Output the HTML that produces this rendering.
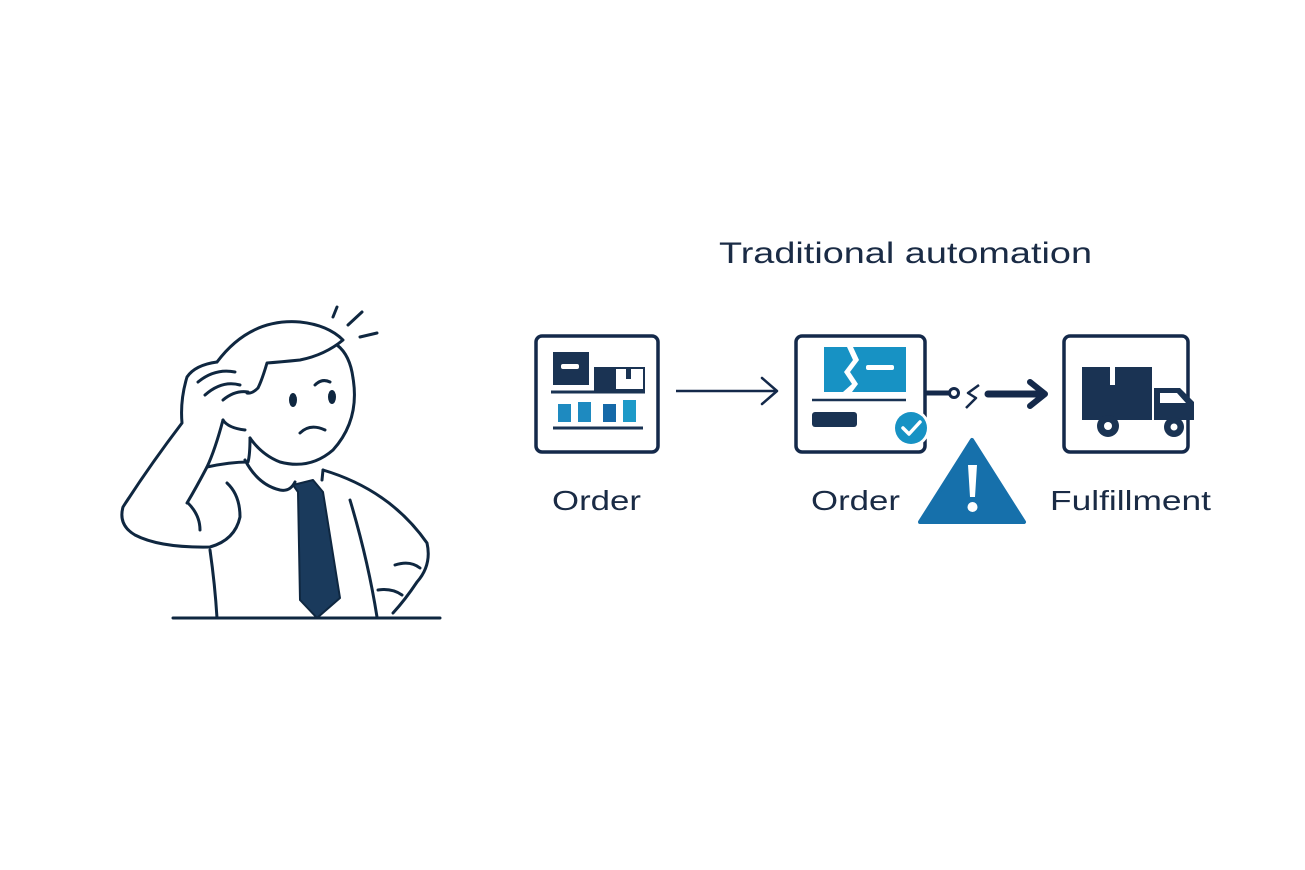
<!DOCTYPE html>
<html><head><meta charset="utf-8"><style>
html,body{margin:0;padding:0;background:#fff;}
svg{display:block;}
text{font-family:"Liberation Sans","DejaVu Sans",sans-serif;fill:#1a2b45;}
</style></head><body>
<svg width="1305" height="870" viewBox="0 0 1305 870" xmlns="http://www.w3.org/2000/svg">
<rect width="1305" height="870" fill="#fff"/>
<!-- Person -->
<g fill="none" stroke="#0f2740" stroke-width="3" stroke-linecap="round" stroke-linejoin="round">
  <!-- table -->
  <line x1="173" y1="618" x2="440" y2="618"/>
  <!-- body -->
  <path d="M323 470 Q390 490 427 543 Q432 565 417 582 Q405 600 393 613"/>
  <path d="M350 500 Q368 560 377 617"/>
  <path d="M395 565 Q410 560 420 568"/>
  <path d="M378 590 Q392 588 402 595"/>
  <path d="M210 550 Q215 585 217 618"/>
  <!-- collar -->
  <path d="M245 460 Q258 485 280 490 Q290 492 295 482"/>
  <path d="M322 480 L323 470"/>
  <!-- head -->
  <path d="M353 378 Q360 420 333 450 Q310 470 280 462 Q262 455 250 438"/>
  <path d="M217 362 Q250 318 300 322 Q328 325 343 340 Q325 355 300 360 Q280 362 267 363 Q262 380 258 388 Q252 394 247 393"/>
  <path d="M337 345 Q350 355 353 378"/>
  <!-- face -->
  <path d="M315 385 Q322 378 330 382"/>
  <path d="M300 433 Q310 423 325 430"/>
  <!-- stress lines -->
  <line x1="333" y1="317" x2="337" y2="307"/>
  <line x1="348" y1="325" x2="362" y2="312"/>
  <line x1="360" y1="337" x2="377" y2="333"/>
  <!-- arm -->
  <path d="M217 362 Q195 365 187 377 Q180 400 182 423 Q150 465 123 507 Q118 525 135 535 Q160 548 210 547 Q235 540 240 517 Q240 495 227 483"/>
  <path d="M198 382 Q215 368 235 372"/>
  <path d="M205 395 Q222 380 240 385"/>
  <path d="M223 400 Q235 390 248 392"/>
  <path d="M223 420 Q215 450 207 467 Q196 488 187 503"/>
  <path d="M223 420 Q228 428 245 430"/>
  <path d="M207 467 Q230 462 248 462 Q250 455 250 438"/>
  <path d="M188 503 Q200 515 200 530"/>
</g>
<ellipse cx="293" cy="400" rx="4" ry="7" fill="#0f2740"/>
<ellipse cx="332" cy="397" rx="4" ry="7" fill="#0f2740"/>
<polygon points="293,485 313,480 323,492 340,598 317,618 300,600 298,492" fill="#1a3a5c" stroke="#0f2740" stroke-width="2" stroke-linejoin="round"/>

<!-- Title -->
<text x="719" y="263" font-size="30" textLength="373" lengthAdjust="spacingAndGlyphs">Traditional automation</text>

<!-- Box 1 -->
<rect x="536" y="336" width="122" height="116" rx="6" fill="none" stroke="#14294a" stroke-width="3.5"/>
<rect x="553" y="352" width="36" height="33" fill="#1a3353"/>
<rect x="561" y="364" width="18" height="5" rx="2" fill="#fff"/>
<rect x="594" y="367" width="51" height="25" fill="#1a3353"/>
<rect x="616" y="369" width="27" height="20" fill="#fff"/>
<rect x="626" y="369" width="5" height="10" fill="#1a3353"/>
<line x1="551" y1="392" x2="645" y2="392" stroke="#1a3353" stroke-width="3"/>
<rect x="558" y="404" width="13" height="18" fill="#1e8ac0"/>
<rect x="578" y="402" width="13" height="20" fill="#1e8ac0"/>
<rect x="603" y="404" width="13" height="18" fill="#1569a8"/>
<rect x="623" y="400" width="13" height="22" fill="#1e9ac8"/>
<line x1="553" y1="428" x2="643" y2="428" stroke="#1a3353" stroke-width="3"/>

<!-- Arrow 1 -->
<line x1="676" y1="391" x2="776" y2="391" stroke="#14294a" stroke-width="2.5"/>
<polyline points="762,378 777,391 762,404" fill="none" stroke="#14294a" stroke-width="2.5" stroke-linecap="round" stroke-linejoin="round"/>

<!-- Box 2 -->
<rect x="796" y="336" width="129" height="116" rx="6" fill="none" stroke="#14294a" stroke-width="3.5"/>
<path d="M824 347 H847 L853 360 L844 372 L852 384 L843 392 H824 Z" fill="#1792c4"/>
<path d="M858 347 H906 V392 H852 L858 384 L850 372 L859 360 L853 347 Z" fill="#1792c4"/>
<rect x="866" y="365" width="28" height="5" rx="2" fill="#fff"/>
<line x1="812" y1="400" x2="906" y2="400" stroke="#1a3353" stroke-width="2.5"/>
<rect x="812" y="412" width="45" height="15" rx="3" fill="#1a3353"/>
<circle cx="911" cy="428" r="19" fill="#fff"/>
<circle cx="911" cy="428" r="16" fill="#1792c4"/>
<polyline points="903,428 909,434 920,422" fill="none" stroke="#fff" stroke-width="3.5" stroke-linecap="round" stroke-linejoin="round"/>

<!-- broken connector -->
<line x1="925" y1="393" x2="950" y2="393" stroke="#14294a" stroke-width="5"/>
<circle cx="954" cy="393" r="4.5" fill="#fff" stroke="#14294a" stroke-width="3"/>
<polyline points="979,385 968,393 976,398 966,408" fill="none" stroke="#14294a" stroke-width="2.5" stroke-linejoin="round"/>
<line x1="988" y1="394" x2="1040" y2="394" stroke="#14294a" stroke-width="7" stroke-linecap="round"/>
<polyline points="1030,382 1045,394 1030,406" fill="none" stroke="#14294a" stroke-width="6" stroke-linecap="round" stroke-linejoin="round"/>

<!-- Box 3 -->
<rect x="1064" y="336" width="124" height="116" rx="6" fill="none" stroke="#14294a" stroke-width="3.5"/>
<rect x="1082" y="367" width="70" height="53" fill="#1a3353"/>
<rect x="1110" y="367" width="5" height="18" fill="#fff"/>
<path d="M1154 388 H1180 L1194 402 V420 H1154 Z" fill="#1a3353"/>
<path d="M1160 393 H1177 L1186 403 H1160 Z" fill="#fff"/>
<circle cx="1108" cy="426" r="11" fill="#1a3353"/>
<circle cx="1108" cy="426" r="4" fill="#fff"/>
<circle cx="1174" cy="427" r="10" fill="#1a3353"/>
<circle cx="1174" cy="427" r="3.5" fill="#fff"/>

<!-- Warning -->
<path d="M972 440 L1024 522 H920 Z" fill="#1670ab" stroke="#1670ab" stroke-width="4" stroke-linejoin="round"/>
<path d="M968 465 H977 L975 497 H970 Z" fill="#fff"/>
<circle cx="972.5" cy="507" r="5" fill="#fff"/>

<!-- Labels -->
<text x="552" y="510" font-size="28" textLength="89" lengthAdjust="spacingAndGlyphs">Order</text>
<text x="811" y="510" font-size="28" textLength="89" lengthAdjust="spacingAndGlyphs">Order</text>
<text x="1050" y="510" font-size="28" textLength="161" lengthAdjust="spacingAndGlyphs">Fulfillment</text>
</svg>
</body></html>
